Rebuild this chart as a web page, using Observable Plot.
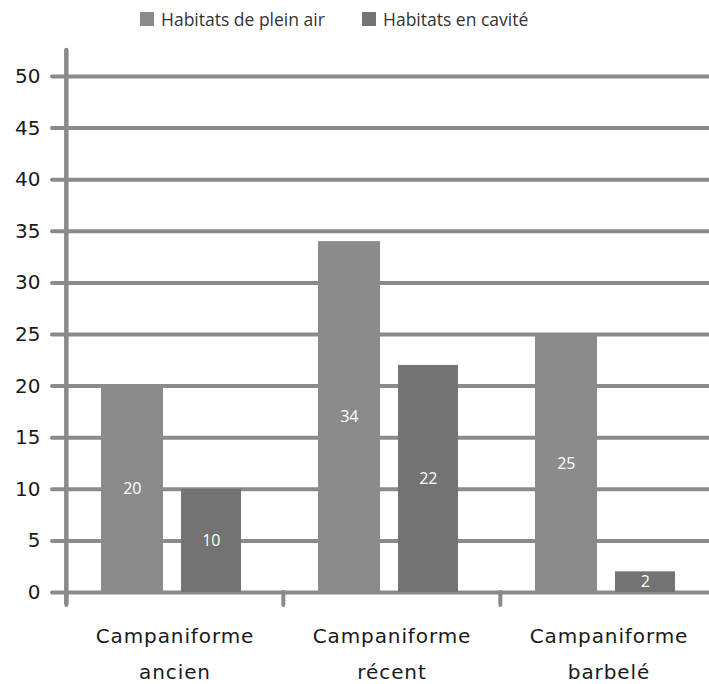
<!DOCTYPE html>
<html>
<head>
<meta charset="utf-8">
<script src="https://cdn.jsdelivr.net/npm/d3@7"></script>
<script src="https://cdn.jsdelivr.net/npm/@observablehq/plot@0.6"></script>
<style>
  body { margin: 0; background: #fff; }
  #legend { height: 38px; display: flex; align-items: center; padding-left: 140px; font-family: "Open Sans", sans-serif; font-size: 17.5px; color: #333; box-sizing: border-box; }
  .item { display: flex; align-items: center; }
  .item:first-child { width: 222px; }
  .sw { width: 14px; height: 14px; margin-right: 7px; }
  g[aria-label="x-axis tick label"] text { letter-spacing: 0.9px; }
</style>
</head>
<body>
<div id="legend"></div>
<div id="chart"></div>
<script>
const categories = ["Campaniforme\nancien", "Campaniforme\nrécent", "Campaniforme\nbarbelé"];
const series = ["Habitats de plein air", "Habitats en cavité"];
const pleinAir = [20, 34, 25];
const cavite = [10, 22, 2];
const yTicks = [0, 5, 10, 15, 20, 25, 30, 35, 40, 45, 50];
const colors = ["#8b8b8b", "#737373"];
const gridColor = "#8a8a8a";

const rows = (vals) => categories.map((c, i) => ({cat: c, v: vals[i]}));
const dataA = rows(pleinAir);
const dataB = rows(cavite);

const W = 709, H = 646, mL = 65, mR = -8;
const bw = (W - mL - mR) / categories.length;

const legend = document.getElementById("legend");
series.forEach((s, i) => {
  const it = document.createElement("div");
  it.className = "item";
  it.innerHTML = `<div class="sw" style="background:${colors[i]}"></div><span>${s}</span>`;
  legend.appendChild(it);
});

const chart = Plot.plot({
  width: W,
  height: H,
  marginLeft: mL,
  marginRight: mR,
  marginTop: 38,
  marginBottom: 92,
  style: {fontFamily: "DejaVu Sans", background: "#fff"},
  x: {domain: categories, padding: 0, label: null},
  y: {domain: [0, 50], label: null},
  marks: [
    Plot.ruleY(yTicks, {stroke: gridColor, strokeWidth: 4}),
    Plot.ruleX([categories[0]], {dx: -bw / 2, stroke: gridColor, strokeWidth: 4.5, insetTop: -26, insetBottom: -11, strokeLinecap: "round"}),
    Plot.axisX({tickSize: 13, tickFormat: () => "", label: null, dx: -bw / 2, stroke: gridColor, strokeWidth: 4, strokeLinecap: "round"}),
    Plot.axisX({tickSize: 0, tickPadding: 25, label: null, fontSize: 20, lineHeight: 1.8, fill: "#1a1a1a"}),
    Plot.axisY({ticks: yTicks, label: null, tickSize: 13, tickPadding: 12, stroke: gridColor, strokeWidth: 4, strokeLinecap: "round", fontSize: 20, fill: "#1a1a1a"}),
    Plot.barY(dataA, {x: "cat", y: "v", fill: colors[0], insetLeft: 35, insetRight: 120}),
    Plot.barY(dataB, {x: "cat", y: "v", fill: colors[1], insetLeft: 115, insetRight: 42}),
    Plot.text(dataA, {x: "cat", y: d => d.v / 2, text: d => String(d.v), dx: 66 - bw / 2, fill: "white", fontSize: 16, fontFamily: "Open Sans"}),
    Plot.text(dataB, {x: "cat", y: d => d.v / 2, text: d => String(d.v), dx: 145 - bw / 2, fill: "white", fontSize: 16, fontFamily: "Open Sans"})
  ]
});
document.getElementById("chart").appendChild(chart);
</script>
</body>
</html>
